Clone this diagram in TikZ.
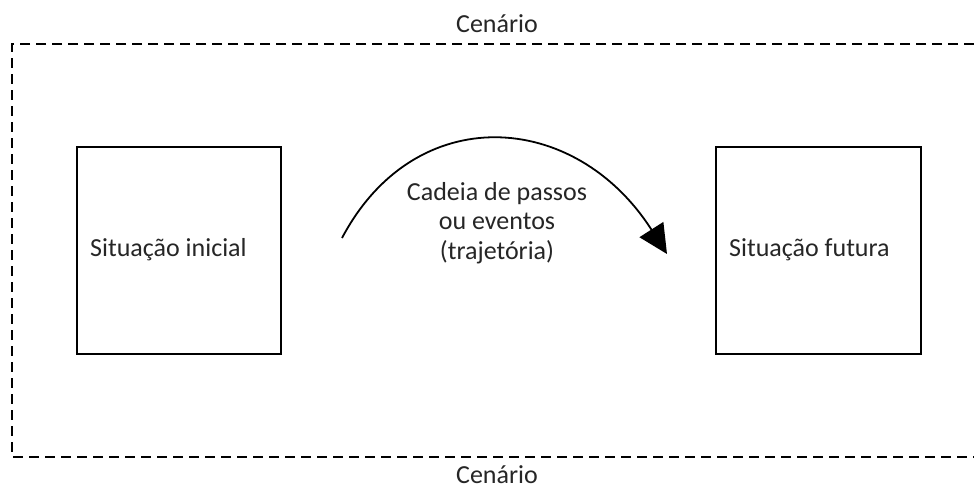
\documentclass[tikz,border=0pt]{standalone}
\usepackage{fontspec}
\setmainfont{Carlito}
\usetikzlibrary{arrows.meta}
\definecolor{txt}{HTML}{262626}
\tikzset{
  lbl/.style={text=txt,font=\fontsize{26}{29.5}\selectfont,inner sep=0pt},
  box/.style={draw=black,line width=2.4pt},
  frame/.style={draw=black,line width=2.4pt,dash pattern=on 10pt off 6pt},
}
\begin{document}
\begin{tikzpicture}[x=1pt,y=-1pt]
\useasboundingbox (0,0) rectangle (974,490);
\fill[white] (0,0) rectangle (974,490);
\draw[frame] (990,44) -- (12,44) -- (12,457) -- (990,457);
\node[box,minimum width=204pt,minimum height=207pt,inner sep=0pt] (ini) at (179,250.5) {};
\node[box,minimum width=205pt,minimum height=207pt,inner sep=0pt] (fut) at (818.5,250.5) {};
\node[lbl,anchor=west] (tini) at (90,250) {Situação inicial};
\node[lbl,anchor=west] (tfut) at (729,250) {Situação futura};
\node[lbl,align=center] (mid) at (497,223) {Cadeia de passos\\ou eventos\\(trajetória)};
\node[lbl] (ctop) at (497,24) {Cenário};
\node[lbl] (cbot) at (497,475) {Cenário};
\coordinate (a0) at (342,238);
\coordinate (a1) at (667,254);
\draw[line width=1.8pt,-{Triangle[length=29pt,width=28pt]}] (a0) .. controls (415,100) and (575,110) .. (a1);
\end{tikzpicture}
\end{document}
